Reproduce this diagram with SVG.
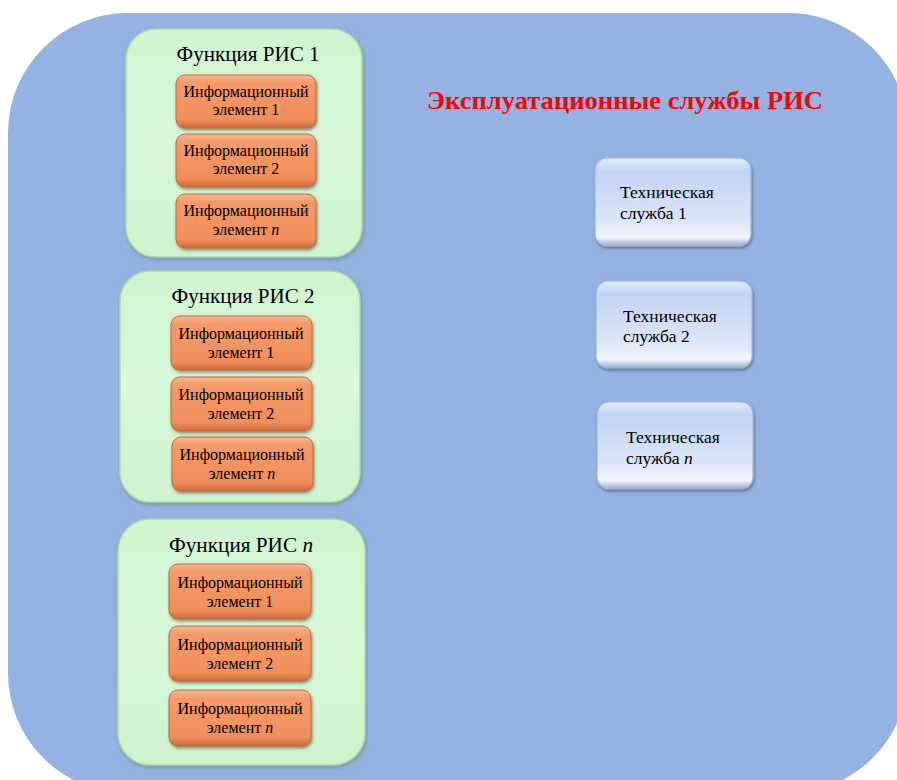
<svg xmlns="http://www.w3.org/2000/svg" width="897" height="780" viewBox="0 0 897 780">
<defs>
<style>
text{font-family:"Liberation Serif","Times New Roman","DejaVu Serif","Noto Serif",serif;fill:#000}
.ft{font-size:20px}
.et{font-size:16px;text-anchor:middle}
.st{font-size:17.5px}
.title{font-size:25px;font-weight:bold;fill:#ff0000;text-anchor:middle}
.green{fill:url(#gG);stroke:#b0d6b0;stroke-width:1.5;filter:url(#sh)}
.orange{fill:url(#gO);stroke:#c86838;stroke-width:1;filter:url(#sh2)}
.blue{fill:url(#gB);stroke:#9fb4dc;stroke-width:1.2;filter:url(#sh2)}
</style>
<linearGradient id="gG" x1="0" y1="0" x2="0" y2="1">
<stop offset="0" stop-color="#d0f4d0"/>
<stop offset="0.5" stop-color="#d8f8d8"/>
<stop offset="1" stop-color="#cff2cf"/>
</linearGradient>
<linearGradient id="gO" x1="0" y1="0" x2="0" y2="1">
<stop offset="0" stop-color="#f8b890"/>
<stop offset="0.15" stop-color="#f59a6a"/>
<stop offset="0.85" stop-color="#f08e5a"/>
<stop offset="1" stop-color="#c86a3a"/>
</linearGradient>
<linearGradient id="gB" x1="0" y1="0" x2="0" y2="1">
<stop offset="0" stop-color="#e4ecfa"/>
<stop offset="0.15" stop-color="#c2d3f2"/>
<stop offset="0.7" stop-color="#dae5f8"/>
<stop offset="0.9" stop-color="#f2f6fd"/>
<stop offset="1" stop-color="#98acd4"/>
</linearGradient>
<filter id="sh" x="-10%" y="-10%" width="120%" height="120%">
<feDropShadow dx="1" dy="2" stdDeviation="2" flood-color="#5a7a5a" flood-opacity="0.5"/>
</filter>
<filter id="sh2" x="-10%" y="-10%" width="120%" height="125%">
<feDropShadow dx="1" dy="2" stdDeviation="1.5" flood-color="#404040" flood-opacity="0.55"/>
</filter>
</defs>
<rect id="bg" x="8" y="13" width="900" height="780" rx="120" ry="120" fill="#95b3e2"/>
<text class="title" x="625" y="109" textLength="396" lengthAdjust="spacingAndGlyphs">Эксплуатационные службы РИС</text>

<g id="func1">
<rect class="green" x="126" y="29" width="236" height="228" rx="30"/>
<text class="ft" x="248" y="61" text-anchor="middle" textLength="143" lengthAdjust="spacingAndGlyphs">Функция РИС 1</text>
<g id="f1e1"><rect class="orange" x="176" y="75" width="140" height="53" rx="9"/>
<text class="et" x="246" y="97">Информационный</text><text class="et" x="246" y="115">элемент 1</text></g>
<g id="f1e2"><rect class="orange" x="176" y="134" width="140" height="53" rx="9"/>
<text class="et" x="246" y="156">Информационный</text><text class="et" x="246" y="174">элемент 2</text></g>
<g id="f1e3"><rect class="orange" x="176" y="194" width="140" height="54" rx="9"/>
<text class="et" x="246" y="216">Информационный</text><text class="et" x="246" y="235">элемент <tspan font-style="italic">n</tspan></text></g>
</g>

<g id="func2">
<rect class="green" x="120" y="271" width="240" height="231" rx="30"/>
<text class="ft" x="243" y="303" text-anchor="middle" textLength="143" lengthAdjust="spacingAndGlyphs">Функция РИС 2</text>
<g id="f2e1"><rect class="orange" x="171" y="316" width="141" height="54" rx="9"/>
<text class="et" x="241" y="339">Информационный</text><text class="et" x="241" y="358">элемент 1</text></g>
<g id="f2e2"><rect class="orange" x="171" y="377" width="141" height="54" rx="9"/>
<text class="et" x="241" y="400">Информационный</text><text class="et" x="241" y="419">элемент 2</text></g>
<g id="f2e3"><rect class="orange" x="172" y="437" width="141" height="54" rx="9"/>
<text class="et" x="242" y="460">Информационный</text><text class="et" x="242" y="479">элемент <tspan font-style="italic">n</tspan></text></g>
</g>

<g id="funcN">
<rect class="green" x="118" y="519" width="247" height="246" rx="32"/>
<text class="ft" x="241" y="552" text-anchor="middle" textLength="144" lengthAdjust="spacingAndGlyphs">Функция РИС <tspan font-style="italic">n</tspan></text>
<g id="f3e1"><rect class="orange" x="169" y="564" width="142" height="55" rx="9"/>
<text class="et" x="240" y="588">Информационный</text><text class="et" x="240" y="607">элемент 1</text></g>
<g id="f3e2"><rect class="orange" x="169" y="626" width="142" height="55" rx="9"/>
<text class="et" x="240" y="650">Информационный</text><text class="et" x="240" y="669">элемент 2</text></g>
<g id="f3e3"><rect class="orange" x="169" y="690" width="142" height="56" rx="9"/>
<text class="et" x="240" y="714">Информационный</text><text class="et" x="240" y="733">элемент <tspan font-style="italic">n</tspan></text></g>
</g>

<g id="service1">
<rect class="blue" x="595" y="158" width="156" height="88" rx="12"/>
<text class="st" x="620" y="198">Техническая</text><text class="st" x="620" y="219">служба 1</text>
</g>
<g id="service2">
<rect class="blue" x="596" y="281" width="156" height="87" rx="12"/>
<text class="st" x="623" y="322">Техническая</text><text class="st" x="623" y="342">служба 2</text>
</g>
<g id="serviceN">
<rect class="blue" x="597" y="402" width="156" height="87" rx="12"/>
<text class="st" x="626" y="443">Техническая</text><text class="st" x="626" y="464">служба <tspan font-style="italic">n</tspan></text>
</g>
<g id="connectors"></g>
</svg>
